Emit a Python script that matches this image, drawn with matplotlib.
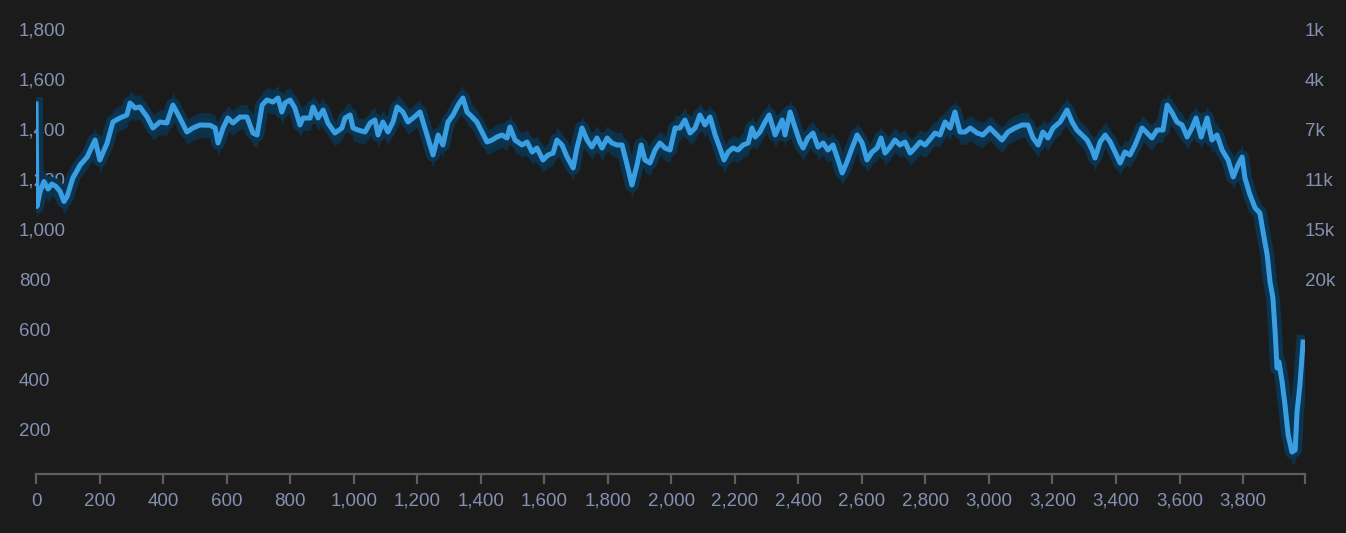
import matplotlib.pyplot as plt
import numpy as np

# values
x = [0, 3, 13, 25, 38, 50, 63, 76, 88, 98, 116, 139, 161, 186, 201, 224, 242, 264, 286, 296,
     312, 327, 350, 368, 390, 412, 431, 453, 475, 494, 516, 548,
     564, 573, 589, 604, 620, 642, 664, 683, 696, 712, 727, 746, 762, 774, 784, 800, 815, 831,
     841, 863, 872, 888, 904, 919, 941, 963, 973, 989, 998, 1014, 1036, 1052, 1067, 1077, 1092,
     1108, 1124,
     1137, 1155, 1171, 1187, 1209, 1231, 1250, 1266, 1281, 1297, 1313, 1329, 1344, 1357, 1373,
     1388, 1404, 1420, 1436, 1451, 1467, 1483, 1492, 1508, 1530, 1546, 1562, 1577, 1596, 1612,
     1628, 1640, 1656, 1672, 1681, 1691,
     1703, 1719, 1735, 1750, 1766, 1782, 1798, 1813, 1829, 1845, 1861, 1876, 1892, 1905, 1917,
     1933, 1949, 1964, 1980, 1996, 2012, 2027, 2043, 2059, 2075, 2090, 2106, 2122, 2138, 2153,
     2166, 2179, 2194, 2210, 2226, 2242, 2254,
     2264, 2279, 2295, 2308, 2327, 2349, 2358, 2374, 2390, 2405, 2415, 2430, 2446, 2462, 2478,
     2493, 2509, 2525, 2538, 2553, 2569, 2585, 2601, 2616, 2632, 2648, 2660, 2673, 2689, 2704,
     2720, 2736, 2752, 2767, 2783, 2799, 2815,
     2830, 2846, 2862, 2878, 2893, 2909, 2925, 2941, 2963, 2981, 3003, 3025, 3041, 3060, 3082,
     3104, 3123, 3139, 3155, 3170, 3186, 3202, 3224, 3246, 3262, 3277, 3293, 3309, 3325, 3334,
     3350, 3366, 3381,
     3397, 3413, 3428, 3444, 3460, 3482, 3498, 3513, 3529, 3548, 3561, 3577, 3592, 3608, 3624,
     3639, 3652, 3668, 3687, 3702, 3718, 3734, 3753, 3769, 3784, 3797, 3806, 3822, 3838, 3853,
     3863, 3876, 3885, 3894, 3901, 3907, 3913, 3923, 3932, 3942, 3954, 3964, 3970, 3979, 3989]

y = [1500, 1090, 1150, 1190, 1160, 1180, 1170, 1150, 1110, 1130, 1204, 1256, 1288, 1356, 1276,
     1344, 1428, 1444, 1456, 1504, 1484, 1488, 1448, 1404, 1428, 1424, 1496, 1444, 1388, 1404,
     1416, 1415,
     1404, 1344, 1404, 1444, 1424, 1448, 1448, 1384, 1376, 1496, 1516, 1508, 1524, 1468, 1504,
     1516, 1484, 1416, 1444, 1444, 1488, 1444, 1476, 1424, 1384, 1404, 1444, 1456, 1404, 1396,
     1388, 1424, 1436, 1376, 1428, 1388, 1428,
     1488, 1468, 1428, 1444, 1468, 1376, 1296, 1376, 1336, 1428, 1456, 1496, 1524, 1468, 1448,
     1428, 1388, 1348, 1356, 1368, 1376, 1364, 1408, 1356, 1336, 1348, 1308, 1324, 1276, 1296,
     1304, 1356, 1336, 1288, 1268, 1244,
     1324, 1404, 1356, 1328, 1364, 1324, 1364, 1344, 1336, 1336, 1256, 1176, 1256, 1336, 1276,
     1264, 1316, 1344, 1324, 1316, 1404, 1404, 1436, 1384, 1404, 1456, 1416, 1448, 1376, 1324,
     1276, 1308, 1324, 1316, 1336, 1344, 1404,
     1368, 1388, 1428, 1456, 1376, 1436, 1376, 1468, 1404, 1348, 1324, 1364, 1384, 1328, 1344,
     1316, 1336, 1276, 1224, 1268, 1324, 1376, 1344, 1276, 1308, 1324, 1364, 1304, 1328, 1356,
     1336, 1348, 1304, 1324, 1348, 1336, 1360,
     1384, 1376, 1428, 1404, 1468, 1388, 1388, 1404, 1384, 1376, 1404, 1376, 1356, 1388, 1404,
     1416, 1416, 1364, 1336, 1388, 1364, 1404, 1428, 1476, 1428, 1396, 1376, 1356, 1316, 1284,
     1348, 1376, 1350,
     1308, 1264, 1308, 1296, 1336, 1404, 1384, 1364, 1396, 1396, 1496, 1464, 1428, 1416, 1368,
     1404, 1444, 1368, 1444, 1356, 1376, 1316, 1276, 1208, 1256, 1288, 1204, 1136, 1084, 1064,
     988, 896, 788, 724, 588, 444, 468, 388, 296, 176, 108, 116, 268, 376, 548]

band_spread = 50
x_ticks = list(range(0, 3801, 200))
right_ticks = [1800, 1600, 1400, 1200, 1000, 800]
right_labels = ['1k', '4k', '7k', '11k', '15k', '20k']

bg = '#1b1b1b'
txt = '#8591b1'
line_c = '#3a9fe2'
band_c = '#0b3450'

plt.rcParams['font.family'] = 'Liberation Sans'
fig = plt.figure(figsize=(13.46, 5.33), dpi=100, facecolor=bg)
ax = fig.add_axes([36 / 1346, 59 / 533, 1269 / 1346, 464 / 533])
ax.set_facecolor(bg)

xa = np.array(x)
ya = np.array(y)
ax.fill_between(xa, ya - band_spread, ya + band_spread, color=band_c, lw=0, alpha=0.85)
ax.plot(xa, ya, color=band_c, lw=10, solid_joinstyle='round')
ax.plot(xa, ya, color=line_c, lw=3.6, solid_joinstyle='round')

ax.set_xlim(0, 3995)
ax.set_ylim(20, 1876)

ax.set_xticks(x_ticks + [3995])
ax.set_xticklabels([f'{v:,}' for v in x_ticks] + [''])
ax.set_yticks(list(range(200, 1801, 200)))
ax.set_yticklabels([f'{v:,}' for v in range(200, 1801, 200)])

for s in ['top', 'left', 'right']:
    ax.spines[s].set_visible(False)
ax.spines['bottom'].set_color('#5e5e5e')
ax.spines['bottom'].set_linewidth(1.6)
ax.tick_params(axis='x', colors='#5e5e5e', length=7.5, width=1.6, pad=6,
               labelcolor=txt, labelsize=13.5)
ax.tick_params(axis='y', length=0, pad=12.5, labelcolor=txt, labelsize=13.5)
for lab in ax.get_yticklabels():
    lab.set_horizontalalignment('left')

ax2 = ax.twinx()
ax2.set_ylim(ax.get_ylim())
ax2.set_yticks(right_ticks)
ax2.set_yticklabels(right_labels)
ax2.tick_params(axis='y', length=0, pad=0, labelcolor=txt, labelsize=13.5)
for s in ['top', 'left', 'right', 'bottom']:
    ax2.spines[s].set_visible(False)

fig.savefig('out.png', dpi=100, facecolor=bg)
